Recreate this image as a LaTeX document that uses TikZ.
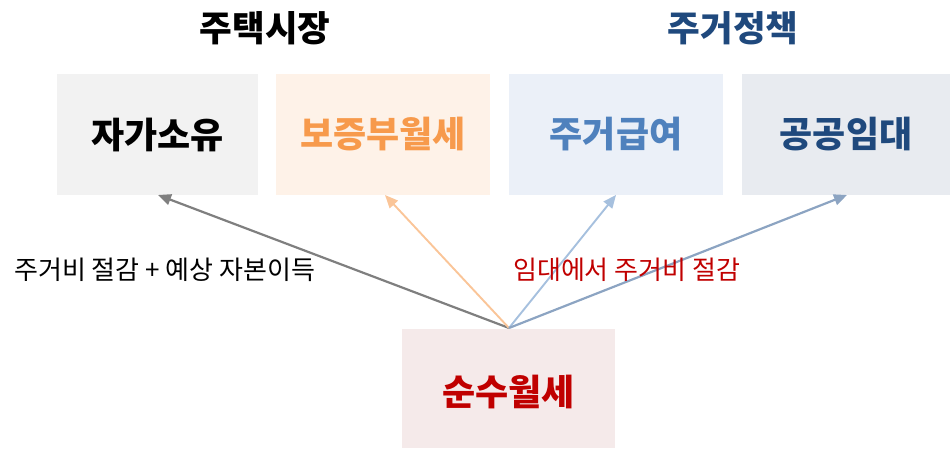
\documentclass[tikz,border=0pt]{standalone}
\usepackage{fontspec}
\setmainfont{Noto Sans CJK KR}
\usetikzlibrary{arrows.meta}
\definecolor{fillA}{HTML}{F2F2F2}
\definecolor{fillB}{HTML}{FEF2E8}
\definecolor{fillC}{HTML}{EBF0F8}
\definecolor{fillD}{HTML}{E8EBF0}
\definecolor{fillE}{HTML}{F5EAEA}
\definecolor{txtB}{HTML}{F79A4C}
\definecolor{txtC}{HTML}{4F81BD}
\definecolor{txtD}{HTML}{1F497D}
\definecolor{txtE}{HTML}{C00000}
\definecolor{arA}{HTML}{7F7F7F}
\definecolor{arB}{HTML}{FAC598}
\definecolor{arC}{HTML}{A6C0DE}
\definecolor{arD}{HTML}{8CA4C2}
\tikzset{
  x=1pt, y=1pt,
  boxstyle/.style={inner sep=0pt, font=\fontsize{36}{40}\selectfont\bfseries},
  titlestyle/.style={inner sep=0pt, font=\fontsize{35.5}{40}\selectfont\bfseries},
  lblstyle/.style={inner sep=0pt, anchor=west, font=\fontsize{26}{30}\selectfont},
  arrowline/.style={-{Triangle[length=13pt,width=11pt]}},
}
\begin{document}
\begin{tikzpicture}
\useasboundingbox (0,0) rectangle (950,448);
% boxes
\fill[fillA] (57,253) rectangle (258,374);
\fill[fillB] (276,253) rectangle (490,374);
\fill[fillC] (509,253) rectangle (723,374);
\fill[fillD] (742,253) rectangle (950,374);
\fill[fillE] (402,0) rectangle (615,119);
\node[boxstyle] (own) at (157.5,313.5) {자가소유};
\node[boxstyle, text=txtB] (jeon) at (383,313.5) {보증부월세};
\node[boxstyle, text=txtC] (ben) at (616,313.5) {주거급여};
\node[boxstyle, text=txtD] (pub) at (846,313.5) {공공임대};
\node[boxstyle, text=txtE] (pure) at (508.5,56) {순수월세};
% titles
\node[titlestyle] (t1) at (265,420) {주택시장};
\node[titlestyle, text=txtD] (t2) at (733,420) {주거정책};
% anchors
\coordinate (src) at (509,120);
\coordinate (eA) at (158,253);
\coordinate (eB) at (385,253);
\coordinate (eC) at (616,253);
\coordinate (eD) at (847,253);
\draw[arrowline, arA, line width=2.2pt] (src) -- (eA);
\draw[arrowline, arB, line width=1.9pt] (src) -- (eB);
\draw[arrowline, arC, line width=1.9pt] (src) -- (eC);
\draw[arrowline, arD, line width=2.2pt] (src) -- (eD);
% labels
\node[lblstyle] (l1) at (14,178) {주거비 절감 + 예상 자본이득};
\node[lblstyle, text=txtE] (l2) at (513,178) {임대에서 주거비 절감};
\end{tikzpicture}
\end{document}
